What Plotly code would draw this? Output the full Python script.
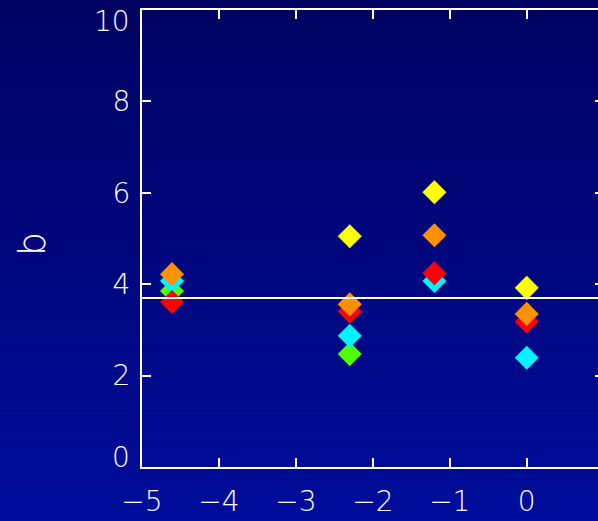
import plotly.graph_objects as go

# Group positions along x
x_groups = [-4.61, -2.30, -1.20, 0.0]

# b values per series at each group
b_green = [3.85, 2.47, None, None]
b_cyan = [4.07, 2.87, 4.07, 2.39]
b_red = [3.61, 3.40, 4.24, 3.18]
b_yellow = [None, 5.05, 6.01, 3.92]
b_orange = [4.22, 3.56, 5.07, 3.35]

series = [
    ("green", b_green, "#50ff00"),
    ("cyan", b_cyan, "#00f4ff"),
    ("red", b_red, "#ff0000"),
    ("yellow", b_yellow, "#ffff00"),
    ("orange", b_orange, "#ff9000"),
]

b_mean = 3.7

x_ticks = [-5, -4, -3, -2, -1, 0]
y_ticks = [0, 2, 4, 6, 8, 10]
y_label = "b"

FONT = dict(family="DejaVu Sans", size=28, color="white", weight=200)

fig = go.Figure()
for name, vals, color in series:
    fig.add_trace(go.Scatter(
        x=x_groups, y=vals, mode="markers", name=name,
        marker=dict(symbol="diamond", size=18.5, color=color, line=dict(width=0)),
        showlegend=False,
    ))

# dummy trace for the right-hand tick axis
fig.add_trace(go.Scatter(x=[None], y=[None], yaxis="y2", showlegend=False))

# vertical background gradient
shapes = []
n = 104
for i in range(n):
    t = i / (n - 1)
    r, g, b = 0, round(0 + 14 * t), round(88 + 72 * t)
    shapes.append(dict(
        type="rect", xref="paper", yref="paper", layer="below",
        x0=-0.5, x1=1.5, y0=1.2 - (i + 1) * 1.4 / n, y1=1.2 - i * 1.4 / n,
        fillcolor=f"rgb({r},{g},{b})", line=dict(width=0),
    ))
shapes.append(dict(
    type="line", xref="paper", yref="y", x0=0, x1=1, y0=b_mean, y1=b_mean,
    line=dict(color="white", width=2), layer="above",
))

# end tick labels are nudged inside the frame; the axis title sits far left
annotations = [
    dict(text=str(y_ticks[-1]), xref="paper", yref="y", x=0, y=y_ticks[-1],
         xanchor="right", yanchor="middle", xshift=-10, yshift=-11,
         showarrow=False, font=FONT),
    dict(text=str(y_ticks[0]), xref="paper", yref="y", x=0, y=y_ticks[0],
         xanchor="right", yanchor="middle", xshift=-10, yshift=10,
         showarrow=False, font=FONT),
    dict(text=y_label, xref="paper", yref="y", x=0, y=4.88, textangle=-90,
         xanchor="center", yanchor="middle", xshift=-110,
         showarrow=False, font=dict(family="DejaVu Sans", size=38, color="white", weight=200)),
]

fig.update_layout(
    width=598, height=521,
    margin=dict(l=142, r=0, t=10, b=54),
    paper_bgcolor="rgb(0,0,120)",
    plot_bgcolor="rgba(0,0,0,0)",
    shapes=shapes,
    annotations=annotations,
    font=FONT,
    xaxis=dict(
        range=[-5, 0.926], tickvals=x_ticks, ticks="inside", ticklen=9, tickwidth=2,
        tickcolor="white", showline=True, linecolor="white", linewidth=2,
        mirror="ticks", showgrid=False, zeroline=False, tickfont=FONT,
        ticklabelstandoff=8, ticklabeloverflow="allow", automargin=False,
    ),
    yaxis=dict(
        range=[0, 10], tickvals=y_ticks,
        ticktext=[""] + [str(v) for v in y_ticks[1:-1]] + [""],
        ticks="inside", ticklen=9, tickwidth=2,
        tickcolor="white", showline=True, linecolor="white", linewidth=2,
        showgrid=False, zeroline=False, tickfont=FONT, automargin=False,
        ticklabelstandoff=4, ticklabeloverflow="allow",
    ),
    yaxis2=dict(
        range=[0, 10], tickvals=y_ticks, ticks="inside", ticklen=3, tickwidth=2,
        tickcolor="white", showline=False, overlaying="y", side="right",
        showticklabels=False, showgrid=False, zeroline=False, automargin=False,
    ),
)

fig.write_html("out.html")
